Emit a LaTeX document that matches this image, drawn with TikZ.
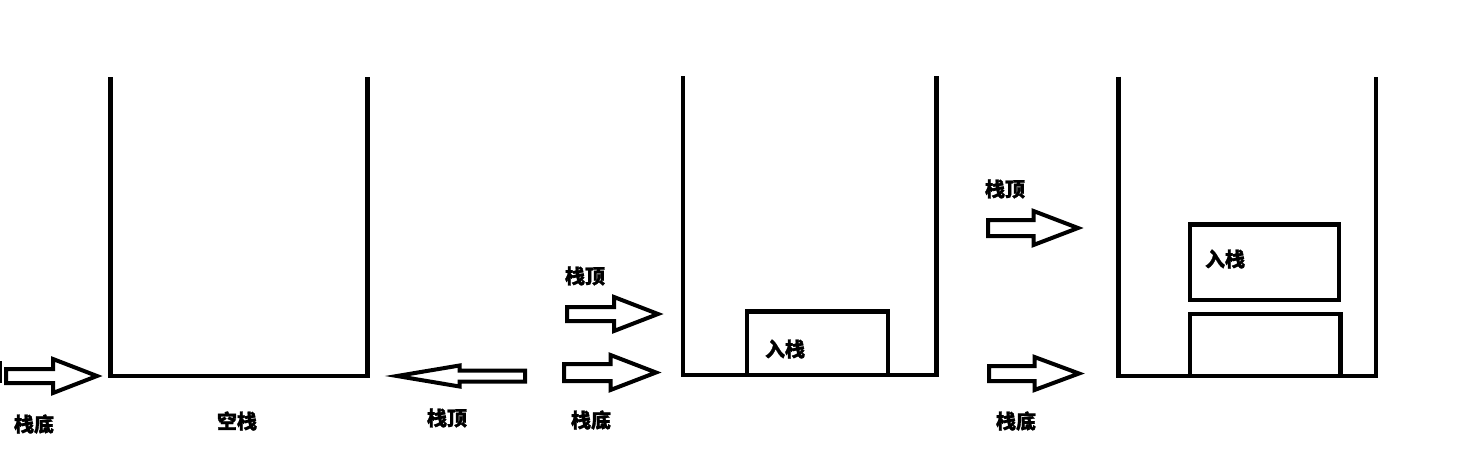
\documentclass[tikz,border=0pt]{standalone}
\usepackage{fontspec}
\newfontfamily\cjk{Noto Sans CJK SC}[FakeBold=1.2]
\tikzset{
  wall/.style={line width=4.5pt, line join=miter},
  boxst/.style={draw, line width=4.5pt},
  barrow/.style={draw, line width=4pt, line join=miter, fill=white},
  lbl/.style={font=\cjk\bfseries\fontsize{20}{22}\selectfont, inner sep=0pt}
}
% #1 start x, #2 head base x, #3 tip x, #4 centre y, #5 body half, #6 head half
\newcommand\barr[6]{%
  \draw[barrow] (#1,#4-#5) -- (#2,#4-#5) -- (#2,#4-#6) -- (#3,#4) -- (#2,#4+#6) -- (#2,#4+#5) -- (#1,#4+#5) -- cycle;}
\begin{document}
\begin{tikzpicture}[x=1pt, y=-1pt]
\useasboundingbox (0,0) rectangle (1460,461);
% containers
\draw[wall] (110.5,77.3) -- (110.5,376) -- (367.5,376) -- (367.5,77.3);
\draw[wall] (683,76) -- (683,375) -- (936.7,375) -- (936.7,76);
\draw[wall] (1118.3,76.7) -- (1118.3,376) -- (1375.8,376) -- (1375.8,76.7);
% boxes
\draw[boxst] (747,311.7) rectangle (888,375);
\draw[boxst] (1190,224.3) rectangle (1339,300);
\draw[boxst] (1190,314) rectangle (1340.5,376);
% small edge mark
\draw[line width=2pt] (1,361) -- (1,383);
% block arrows
\barr{6}{53}{97}{376}{7}{17}
\barr{525}{459.5}{397}{376}{5.5}{10.5}
\barr{567}{614}{658}{314}{7}{17}
\barr{564}{610.5}{656}{372.5}{8.5}{17.5}
\barr{988}{1033.5}{1078}{228}{8}{17}
\barr{989}{1034.5}{1079}{373.5}{7.5}{16.5}
% labels
\node[lbl] (d1) at (34,424) {栈底};
\node[lbl] (e1) at (237,421) {空栈};
\node[lbl] (t1) at (447,418) {栈顶};
\node[lbl] (t2) at (585,276) {栈顶};
\node[lbl] (d2) at (591,420) {栈底};
\node[lbl] (p2) at (785,349) {入栈};
\node[lbl] (t3) at (1005,189) {栈顶};
\node[lbl] (p3) at (1225,259) {入栈};
\node[lbl] (d3) at (1016,421) {栈底};
\end{tikzpicture}
\end{document}
